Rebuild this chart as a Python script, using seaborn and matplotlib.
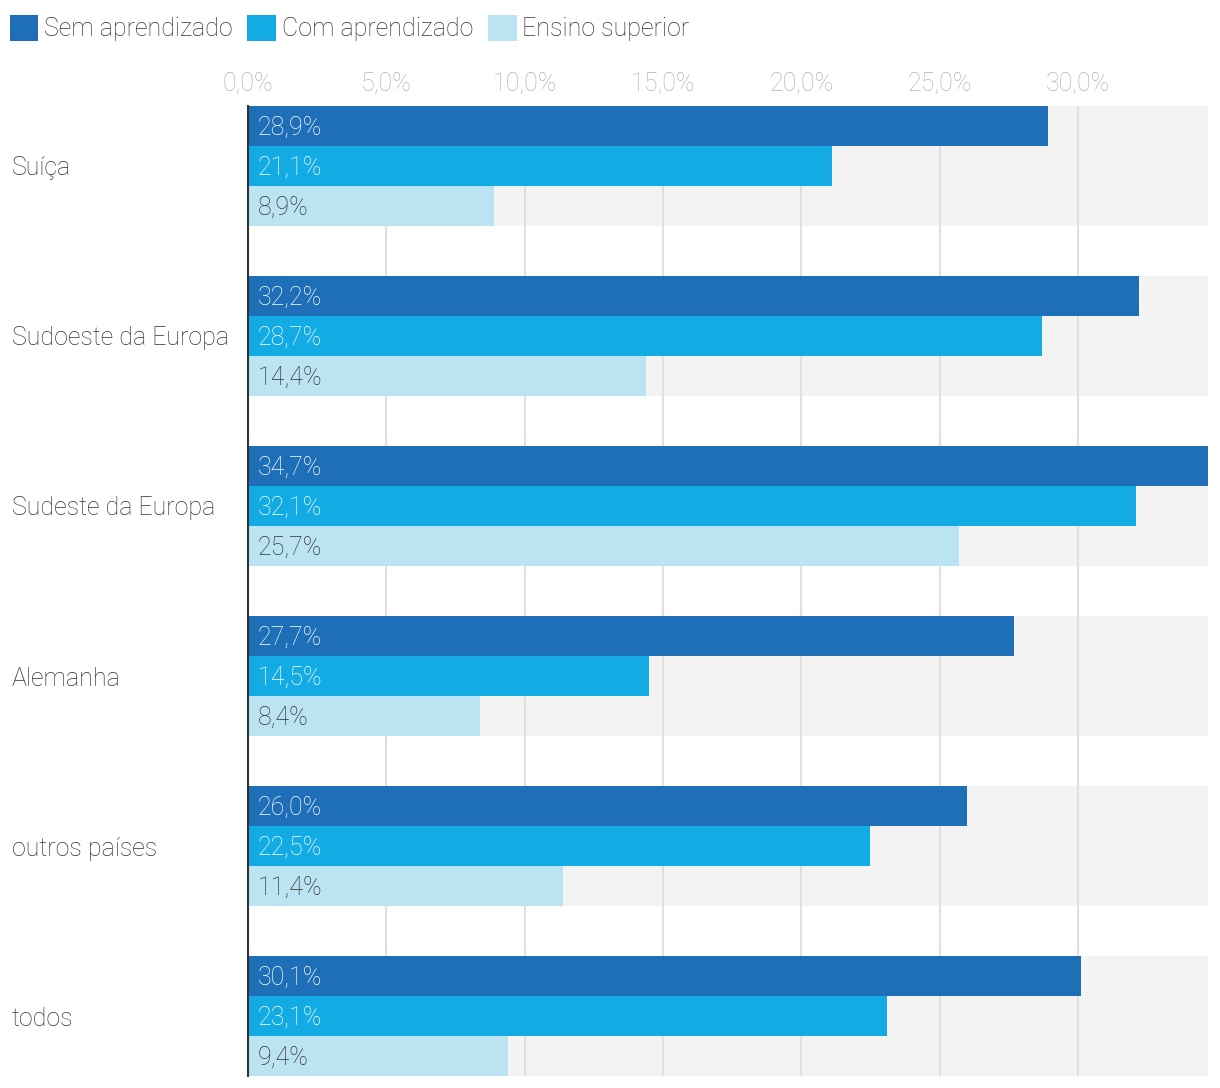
import matplotlib
matplotlib.use("Agg")
import matplotlib.pyplot as plt
import seaborn as sns
import pandas as pd
from matplotlib.patches import Patch

categories = ["Suíça", "Sudoeste da Europa", "Sudeste da Europa", "Alemanha", "outros países", "todos"]
series = ["Sem aprendizado", "Com aprendizado", "Ensino superior"]
sem_aprendizado = [28.9, 32.2, 34.7, 27.7, 26.0, 30.1]
com_aprendizado = [21.1, 28.7, 32.1, 14.5, 22.5, 23.1]
ensino_superior = [8.9, 14.4, 25.7, 8.4, 11.4, 9.4]
xticks = [0, 5, 10, 15, 20, 25, 30]
colors = ["#1f6fb8", "#12abe3", "#bbe4f2"]
label_colors = ["white", "white", "#333333"]

rows = []
for vals, s in zip([sem_aprendizado, com_aprendizado, ensino_superior], series):
    for c, v in zip(categories, vals):
        rows.append({"pais": c, "serie": s, "valor": v})
df = pd.DataFrame(rows)

sns.set_style("white")
plt.rcParams["font.family"] = ["Roboto", "DejaVu Sans"]
plt.rcParams["font.weight"] = "light"
FS = 18

fig = plt.figure(figsize=(12.2, 10.88), dpi=100)
W, H = 1220, 1088
ax = fig.add_axes([248 / W, (H - 1076) / H, 960 / W, 970 / H])

half = 60 / 170
for i in range(len(categories)):
    ax.axhspan(i - half, i + half, color="#f3f3f3", zorder=0, lw=0)

sns.barplot(data=df, y="pais", x="valor", hue="serie", order=categories,
            hue_order=series, palette=colors, orient="h", width=120 / 170,
            ax=ax, saturation=1, legend=False, zorder=2, linewidth=0,
            edgecolor="none")

for cont, lc in zip(ax.containers, label_colors):
    for bar in cont:
        v = bar.get_width()
        yc = bar.get_y() + bar.get_height() / 2
        ax.annotate(f"{v:.1f}".replace(".", ",") + "%", xy=(0, yc),
                    xytext=(7, -1.2), textcoords="offset points",
                    ha="left", va="center", color=lc, fontsize=FS,
                    fontweight="light", zorder=5)

ax.set_xlim(0, 34.7)
ax.set_ylim(len(categories) - 1 + half, -half)
ax.set_xticks(xticks)
ax.set_xticklabels([f"{t:.1f}".replace(".", ",") + "%" for t in xticks])
ax.xaxis.tick_top()
ax.tick_params(axis="x", length=0, pad=7.5, labelsize=FS, labelcolor="#b3b3b3")
ax.tick_params(axis="y", length=0, pad=170, labelsize=FS, labelcolor="#333333")
for lab in ax.get_yticklabels():
    lab.set_ha("left")
ax.set_xlabel("")
ax.set_ylabel("")
ax.grid(axis="x", color="#e0e0e0", lw=1.5, zorder=1)
ax.grid(axis="y", visible=False)
ax.set_axisbelow(True)
for s in ["top", "right", "bottom"]:
    ax.spines[s].set_visible(False)
ax.spines["left"].set_color("#333333")
ax.spines["left"].set_linewidth(1.5)
ax.spines["left"].set_zorder(6)

handles = [Patch(facecolor=c, edgecolor="none", label=s) for c, s in zip(colors, series)]
fig.legend(handles=handles, loc="upper left", bbox_to_anchor=(-8 / W, 1 + 3 / H), ncol=3,
           frameon=False, fontsize=FS, handlelength=1.15, handleheight=1.25,
           handletextpad=0.22, columnspacing=0.6, borderaxespad=0.3,
           labelcolor="#333333")

fig.savefig("out.png", dpi=100)
